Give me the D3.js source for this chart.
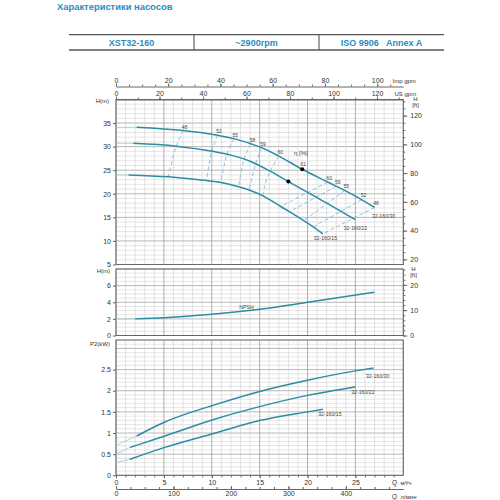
<!DOCTYPE html>
<html><head><meta charset="utf-8">
<script src="https://cdn.jsdelivr.net/npm/d3@7"></script>
<style>
body{margin:0;background:#fff}
text{font-family:"Liberation Sans",Arial,Helvetica,sans-serif}
</style>
</head><body>
<svg id="c" width="500" height="500"></svg>
<script>
// ---------- data ----------
const titleText = "Характеристики насосов";
const headerCells = ["XST32-160", "~2900rpm", "ISO 9906   Annex A"];
const models = ["32-160/30", "32-160/22", "32-160/15"];

// Head curves: Q (m3/h) vs H (m)
const headQ30 = [2.15, 7.0, 10.6, 12.3, 14.1, 15.2, 17.0, 19.45, 22.1, 25.0, 27.0];
const headH30 = [34.1, 33.4, 32.4, 31.7, 30.6, 29.8, 28.0, 25.2, 22.5, 19.5, 17.1];
const headQ22 = [1.8, 6.3, 10.1, 12.0, 14.0, 16.0, 18.0, 21.0, 25.0];
const headH22 = [30.7, 30.1, 29.0, 28.2, 26.9, 24.9, 22.6, 19.2, 14.5];
const headQ15 = [1.3, 5.45, 9.45, 10.95, 12.8, 13.9, 15.4, 17.2, 18.1, 19.6, 20.6, 21.6];
const headH15 = [24.0, 23.6, 22.8, 22.4, 21.5, 20.8, 19.5, 17.3, 16.2, 14.3, 13.0, 11.5];

// Efficiency iso-lines (pairs Q,H), labels in %
const effLabels = ["48", "52", "55", "58", "59", "60", "60", "59", "55", "52", "48"];
const effQ = [[7.0, 6.3, 5.45], [10.6, 10.0, 9.45], [12.3, 11.6, 10.95], [14.1, 13.4, 12.8],
              [15.2, 14.6, 13.9], [17.0, 16.1, 15.5, 15.4],
              [22.1, 17.2], [23.0, 18.1], [23.9, 19.6], [25.7, 20.6], [27.0, 21.6]];
const effH = [[33.4, 30.1, 23.6], [32.4, 29.0, 22.8], [31.7, 28.5, 22.4], [30.6, 27.6, 21.5],
              [29.8, 26.5, 20.8], [28.0, 24.8, 21.5, 19.6],
              [22.5, 17.3], [21.6, 16.2], [20.7, 14.3], [18.8, 13.0], [17.1, 11.5]];
// Best efficiency points
const bepQ = [19.45, 18.0];
const bepH = [25.2, 22.6];
const bepLabel = "61";

// NPSH curve
const npshQ = [2, 5, 10, 15, 20, 24, 27];
const npshH = [2.0, 2.14, 2.55, 3.15, 4.0, 4.7, 5.2];
const npshStart = 1.98;

// Power curves P2 (kW)
const powQ30 = [2.16, 5.1, 10.2, 15.1, 20.0, 25.0, 26.9];
const powP30 = [0.93, 1.26, 1.66, 1.99, 2.25, 2.47, 2.54];
const powQ22 = [1.46, 5.1, 10.2, 15.1, 20.0, 25.0];
const powP22 = [0.66, 0.93, 1.32, 1.63, 1.89, 2.09];
const powQ15 = [1.46, 5.1, 10.2, 15.1, 20.0, 21.6];
const powP15 = [0.38, 0.66, 0.99, 1.30, 1.50, 1.56];
const powShutoff = [0.71, 0.50, 0.30];

// Tick labels
const headTicks = [5, 10, 15, 20, 25, 30, 35];
const headFtTicks = [20, 40, 60, 80, 100, 120];
const npshTicks = [0, 2, 4, 6];
const npshFtTicks = [0, 10, 20];
const powTicks = [0, 0.5, 1, 1.5, 2, 2.5];
const qTicks = [0, 5, 10, 15, 20, 25];
const lminTicks = [0, 100, 200, 300, 400];
const impTicks = [0, 20, 40, 60, 80, 100];
const usTicks = [0, 20, 40, 60, 80, 100, 120];

// ---------- drawing ----------
const svg = d3.select("#c");
const teal = "#2a8ca5", tealLight = "#a3cfdc", dash = "#82bbe0", headBlue = "#2a8dc0";
const fs = 7;

svg.append("rect").attr("width", 500).attr("height", 500).attr("fill", "#fff");

// header
svg.append("text").attr("x", 57).attr("y", 9.5).attr("font-size", 9.4).attr("font-weight", "bold")
  .attr("fill", headBlue).text(titleText);
const hx = d3.scaleLinear([0, 3], [69, 444]);
[34.7, 50].forEach(y => svg.append("line").attr("x1", hx(0)).attr("x2", hx(3)).attr("y1", y).attr("y2", y)
  .attr("stroke", "#555").attr("stroke-width", 1.3));
[1, 2].forEach(i => svg.append("line").attr("x1", hx(i)).attr("x2", hx(i)).attr("y1", 34.7).attr("y2", 50)
  .attr("stroke", "#555").attr("stroke-width", 1.1));
headerCells.forEach((t, i) => svg.append("text").attr("x", hx(i + 0.5)).attr("y", 45.5)
  .attr("text-anchor", "middle").attr("font-size", 9).attr("font-weight", "bold").attr("fill", headBlue)
  .attr("xml:space", "preserve").style("white-space", "pre").text(t));

// scales
const X0 = 116, X1 = 403.3;
const x = d3.scaleLinear([0, 30], [X0, X1]);
const yH = d3.scaleLinear([5, 40], [264.5, 99.5]);
const yN = d3.scaleLinear([0, 8], [335.5, 269]);
const yP = d3.scaleLinear([0, 3.2], [475.3, 340]);

function panel(y, minorStep, majorEvery) {
  const g = svg.append("g");
  const [d0, d1] = y.domain();
  const n = Math.round((d1 - d0) / minorStep);
  for (let i = 0; i <= n; i++) {
    const v = d0 + i * minorStep;
    const major = Math.abs(v / majorEvery - Math.round(v / majorEvery)) < 1e-6;
    g.append("line").attr("x1", X0).attr("x2", X1).attr("y1", y(v)).attr("y2", y(v))
      .attr("stroke", major ? "#a4a4a4" : "#d4d4d4").attr("stroke-width", major ? 0.8 : 0.6);
  }
  d3.range(0, 31, 1).forEach(q => {
    const major = q % 5 === 0;
    g.append("line").attr("x1", x(q)).attr("x2", x(q)).attr("y1", y.range()[0]).attr("y2", y.range()[1])
      .attr("stroke", major ? "#9c9c9c" : "#cecece").attr("stroke-width", major ? 0.8 : 0.6);
  });
  g.append("rect").attr("x", X0).attr("y", y.range()[1]).attr("width", X1 - X0)
    .attr("height", y.range()[0] - y.range()[1]).attr("fill", "none").attr("stroke", "#666").attr("stroke-width", 1);
}
panel(yH, 1, 5);
panel(yN, 0.5, 2);
panel(yP, 0.1, 0.5);

function styleAxis(g, size) {
  g.select(".domain").attr("stroke", "#666");
  g.selectAll(".tick line").attr("stroke", "#666");
  g.selectAll("text").attr("font-size", size || fs).attr("fill", "#333")
    .attr("font-family", "Liberation Sans, Arial, sans-serif");
}

// left axes
[[yH, headTicks], [yN, npshTicks], [yP, powTicks]].forEach(([s, t]) => {
  const g = svg.append("g").attr("transform", `translate(${X0},0)`)
    .call(d3.axisLeft(s).tickValues(t).tickSize(3).tickPadding(2).tickSizeOuter(0).tickFormat(d3.format("")));
  g.select(".domain").remove();
  styleAxis(g);
});

// right ft axes
const ft = 3.28084;
const yHft = d3.scaleLinear([5 * ft, 40 * ft], yH.range());
const yNft = d3.scaleLinear([0, 8 * ft], yN.range());
function ftAxis(s, ticks, minorStep) {
  const m = svg.append("g").attr("transform", `translate(${X1},0)`)
    .call(d3.axisRight(s).tickValues(d3.range(Math.ceil(s.domain()[0] / minorStep) * minorStep, s.domain()[1], minorStep))
      .tickSize(2).tickFormat(""));
  m.select(".domain").remove(); styleAxis(m);
  const g = svg.append("g").attr("transform", `translate(${X1},0)`)
    .call(d3.axisRight(s).tickValues(ticks).tickSize(4).tickPadding(3));
  g.select(".domain").remove(); styleAxis(g);
}
ftAxis(yHft, headFtTicks, 5);
ftAxis(yNft, npshFtTicks, 2);

// top axes
const xImp = d3.scaleLinear([0, 30 * 3.66615], [X0, X1]);
const xUS = d3.scaleLinear([0, 30 * 4.40287], [X0, X1]);
function topAxis(s, y, ticks, minorStep) {
  const m = svg.append("g").attr("transform", `translate(0,${y})`)
    .call(d3.axisTop(s).tickValues(d3.range(0, s.domain()[1], minorStep)).tickSize(2).tickSizeOuter(0).tickFormat(""));
  styleAxis(m);
  const g = svg.append("g").attr("transform", `translate(0,${y})`)
    .call(d3.axisTop(s).tickValues(ticks).tickSize(3).tickPadding(1));
  g.select(".domain").remove(); styleAxis(g);
}
topAxis(xImp, 86.5, impTicks, 5);
topAxis(xUS, 99.5, usTicks, 10);
svg.append("text").attr("x", 392.5).attr("y", 83.3).attr("font-size", 6).attr("fill", "#333").text("Imp gpm");
svg.append("text").attr("x", 394.5).attr("y", 95.5).attr("font-size", 6).attr("fill", "#333").text("US gpm");

// bottom axes
{
  const m = svg.append("g").attr("transform", `translate(0,${yP.range()[0]})`)
    .call(d3.axisBottom(x).tickValues(d3.range(0, 30, 1)).tickSize(2).tickFormat(""));
  m.select(".domain").remove(); styleAxis(m);
  const g = svg.append("g").attr("transform", `translate(0,${yP.range()[0]})`)
    .call(d3.axisBottom(x).tickValues(qTicks).tickSize(3).tickPadding(1.5));
  g.select(".domain").remove(); styleAxis(g);
  const xL = d3.scaleLinear([0, 30 * 1000 / 60], [X0, X1]);
  const m2 = svg.append("g").attr("transform", "translate(0,489)")
    .call(d3.axisBottom(xL).tickValues(d3.range(0, 500, 25)).tickSizeInner(-2).tickSizeOuter(0).tickFormat(""));
  styleAxis(m2);
  const g2 = svg.append("g").attr("transform", "translate(0,489)")
    .call(d3.axisBottom(xL).tickValues(lminTicks).tickSizeInner(-3).tickSizeOuter(0).tickPadding(2));
  g2.select(".domain").remove(); styleAxis(g2);
}
svg.append("text").attr("x", 392).attr("y", 485).attr("font-size", 6.5).attr("fill", "#333").text("Q");
svg.append("text").attr("x", 400.5).attr("y", 485).attr("font-size", 6).attr("fill", "#333").text("м³/ч");
svg.append("text").attr("x", 392).attr("y", 498.5).attr("font-size", 6.5).attr("fill", "#333").text("Q");
svg.append("text").attr("x", 400.5).attr("y", 498.5).attr("font-size", 6).attr("fill", "#333").text("л/мин");

// axis titles
svg.append("text").attr("x", 109).attr("y", 103).attr("text-anchor", "end").attr("font-size", 6).attr("fill", "#333").text("H(m)");
svg.append("text").attr("x", 110).attr("y", 273).attr("text-anchor", "end").attr("font-size", 6).attr("fill", "#333").text("H(m)");
svg.append("text").attr("x", 110).attr("y", 346).attr("text-anchor", "end").attr("font-size", 6).attr("fill", "#333").text("P2(kW)");
[[415.5, 101, "H"], [415.5, 107, "[ft]"], [413.5, 271, "H"], [413.5, 277, "[ft]"]].forEach(([tx, ty, t]) =>
  svg.append("text").attr("x", tx).attr("y", ty).attr("text-anchor", "middle").attr("font-size", 6).attr("fill", "#333").text(t));

// curves
const zip = (a, b) => a.map((v, i) => [v, b[i]]);
const lineH = d3.line().x(d => x(d[0])).y(d => yH(d[1])).curve(d3.curveMonotoneX);
const lineN = d3.line().x(d => x(d[0])).y(d => yN(d[1])).curve(d3.curveMonotoneX);
const lineP = d3.line().x(d => x(d[0])).y(d => yP(d[1])).curve(d3.curveMonotoneX);
const lineE = d3.line().x(d => x(d[0])).y(d => yH(d[1])).curve(d3.curveCatmullRom);

// efficiency dashed lines
effQ.forEach((qs, i) => {
  svg.append("path").attr("d", lineE(zip(qs, effH[i]))).attr("fill", "none")
    .attr("stroke", dash).attr("stroke-width", 0.9).attr("stroke-dasharray", "4,2.5");
  svg.append("text").attr("x", x(qs[0]) + 1.5).attr("y", yH(effH[i][0]) - 2)
    .attr("text-anchor", "middle").attr("font-size", 5).attr("fill", "#444").text(effLabels[i]);
});

const heads = [zip(headQ30, headH30), zip(headQ22, headH22), zip(headQ15, headH15)];
heads.forEach((pts, i) => {
  svg.append("path").attr("d", lineH([[0, pts[0][1]], pts[0]])).attr("fill", "none")
    .attr("stroke", tealLight).attr("stroke-width", 0.9);
  svg.append("path").attr("d", lineH(pts)).attr("fill", "none").attr("stroke", teal).attr("stroke-width", 1.5);
});
const headLblOff = [[9, 11], [0, 10], [2.5, 6.5]];
heads.forEach((pts, i) => {
  const e = pts[pts.length - 1];
  svg.append("text").attr("x", x(e[0]) + headLblOff[i][0]).attr("y", yH(e[1]) + headLblOff[i][1])
    .attr("text-anchor", "middle").attr("font-size", 5.2).attr("fill", "#444").text(models[i]);
});
bepQ.forEach((q, i) => svg.append("circle").attr("cx", x(q)).attr("cy", yH(bepH[i])).attr("r", 2).attr("fill", "#000"));
svg.append("text").attr("x", x(bepQ[0]) + 1).attr("y", yH(bepH[0]) - 3.5).attr("text-anchor", "middle")
  .attr("font-size", 5).attr("fill", "#444").text(bepLabel);
svg.append("text").attr("x", 294).attr("y", 155).attr("font-size", 6).attr("fill", "#333").text("η [%]");

// NPSH
const npts = zip(npshQ, npshH);
svg.append("path").attr("d", lineN([[0, npshStart], npts[0]])).attr("fill", "none").attr("stroke", tealLight).attr("stroke-width", 0.9);
svg.append("path").attr("d", lineN(npts)).attr("fill", "none").attr("stroke", teal).attr("stroke-width", 1.5);
svg.append("text").attr("x", 246.5).attr("y", 309).attr("text-anchor", "middle").attr("font-size", 5.2).attr("fill", "#444").text("NPSH");

// Power
const pows = [zip(powQ30, powP30), zip(powQ22, powP22), zip(powQ15, powP15)];
const powLblOff = [[4, 10.5], [7.5, 7], [7, 7]];
pows.forEach((pts, i) => {
  svg.append("path").attr("d", lineP([[0, powShutoff[i]], pts[0]])).attr("fill", "none")
    .attr("stroke", tealLight).attr("stroke-width", 0.9);
  svg.append("path").attr("d", lineP(pts)).attr("fill", "none").attr("stroke", teal).attr("stroke-width", 1.5);
  const e = pts[pts.length - 1];
  svg.append("text").attr("x", x(e[0]) + powLblOff[i][0]).attr("y", yP(e[1]) + powLblOff[i][1])
    .attr("text-anchor", "middle").attr("font-size", 5.2).attr("fill", "#444").text(models[i]);
});
</script>
</body></html>
